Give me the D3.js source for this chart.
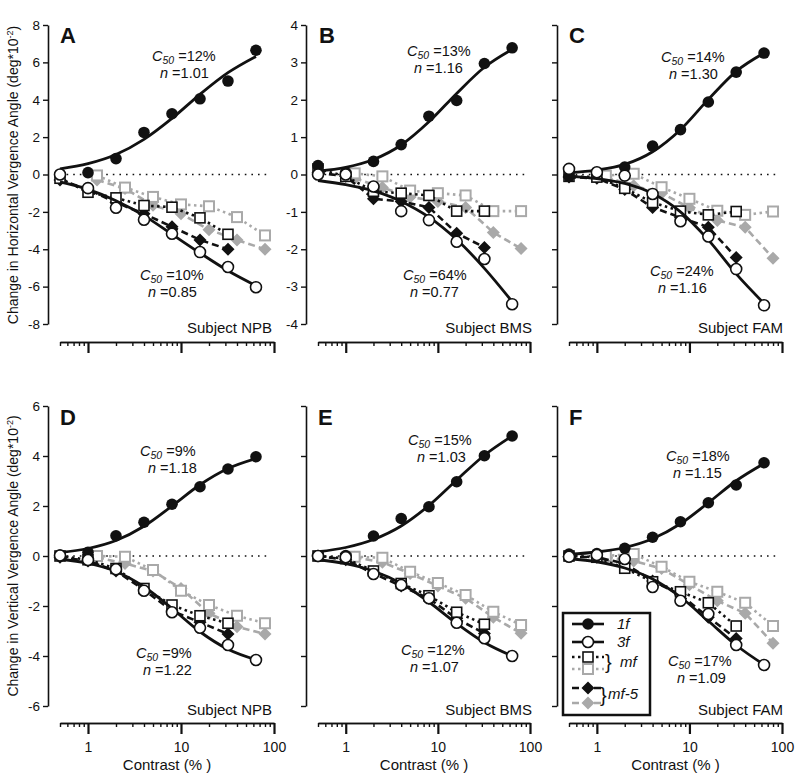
<!DOCTYPE html>
<html><head><meta charset="utf-8">
<script src="https://cdn.jsdelivr.net/npm/d3@7"></script>
<style>body{margin:0;background:#fff}svg{display:block}text{font-family:Arial,"Liberation Sans",sans-serif;fill:#111}</style>
</head><body><svg id="c" width="800" height="780"></svg>
<script>
// ---------------- DATA ----------------
const contrast = [0.5, 1, 2, 4, 8, 16, 32, 64];          // 1f, 3f, fits
const contrastMf = [0.5, 1, 2, 4, 8, 16, 32];            // black mf, mf-5
const contrastShift = [1.25, 2.5, 5, 10, 20, 40, 80];    // grey mf, mf-5
const xMajorTicks = [1, 10, 100];
const xMinorTicks = [0.5,0.6,0.7,0.8,0.9,2,3,4,5,6,7,8,9,20,30,40,50,60,70,80,90];
const xTickLabels = ["1", "10", "100"];

const letters = ["A","B","C","D","E","F"];
const subjects = ["Subject NPB","Subject BMS","Subject FAM","Subject NPB","Subject BMS","Subject FAM"];
const yDomains = [[-8,8],[-4,4],[-4,4],[-6,6],[-6,6],[-6,6]];
const yTicksA = [-8,-6,-4,-2,0,2,4,6,8];
const yTicksB = [-4,-3,-2,-1,0,1,2,3,4];
const yTicksD = [-6,-4,-2,0,2,4,6];
const yTickSets = [yTicksA, yTicksB, yTicksB, yTicksD, yTicksD, yTicksD];
const yTickLabelShown = [true, true, false, true, false, false];

const c50Top = ["12%","13%","14%","9%","15%","18%"];
const nTop   = ["1.01","1.16","1.30","1.18","1.03","1.15"];
const c50Bot = ["10%","64%","24%","9%","12%","17%"];
const nBot   = ["0.85","0.77","1.16","1.22","1.07","1.09"];

// 1f (filled circles)
const f1A = [0.0, 0.1, 0.85, 2.25, 3.25, 4.05, 5.0, 6.65];
const f1B = [0.24, 0.05, 0.35, 0.8, 1.56, 1.98, 2.97, 3.39];
const f1C = [-0.05, 0.05, 0.2, 0.76, 1.2, 1.94, 2.74, 3.25];
const f1D = [0.04, 0.15, 0.81, 1.35, 2.07, 2.77, 3.48, 3.97];
const f1E = [0.0, 0.02, 0.8, 1.5, 1.97, 2.97, 4.01, 4.8];
const f1F = [0.08, 0.1, 0.31, 0.75, 1.37, 2.13, 2.84, 3.73];
// 3f (open circles)
const f3A = [0.0, -0.73, -1.78, -2.42, -3.17, -4.15, -4.95, -6.03];
const f3B = [0.0, 0.0, -0.32, -0.98, -1.22, -1.8, -2.26, -3.47];
const f3C = [0.15, 0.06, -0.03, -0.52, -1.25, -1.66, -2.53, -3.5];
const f3D = [0.02, -0.16, -0.53, -1.39, -2.25, -2.87, -3.56, -4.16];
const f3E = [0.0, -0.05, -0.72, -1.16, -1.69, -2.67, -3.29, -4.0];
const f3F = [-0.03, 0.04, -0.12, -1.24, -1.79, -2.32, -3.56, -4.36];
// fitted curves read at the contrasts
const fit1A = [0.3, 0.58, 1.07, 1.88, 3.0, 4.29, 5.45, 6.32];
const fit1B = [0.09, 0.19, 0.40, 0.79, 1.41, 2.17, 2.87, 3.35];
const fit1C = [0.05, 0.12, 0.27, 0.61, 1.2, 2.01, 2.76, 3.25];
const fit1D = [0.14, 0.30, 0.62, 1.19, 2.0, 2.85, 3.5, 3.9];
const fit1E = [0.17, 0.34, 0.66, 1.2, 2.02, 3.04, 4.03, 4.8];
const fit1F = [0.07, 0.16, 0.34, 0.69, 1.29, 2.13, 3.01, 3.7];
const fit3A = [-0.4, -0.8, -1.4, -2.2, -3.2, -4.2, -5.15, -5.95];
const fit3B = [-0.16, -0.27, -0.44, -0.72, -1.14, -1.74, -2.51, -3.4];
const fit3C = [-0.05, -0.11, -0.24, -0.51, -1.0, -1.75, -2.66, -3.45];
const fit3D = [-0.13, -0.29, -0.62, -1.23, -2.1, -3.03, -3.73, -4.15];
const fit3E = [-0.15, -0.31, -0.6, -1.1, -1.84, -2.7, -3.46, -4.0];
const fit3F = [-0.11, -0.23, -0.48, -0.92, -1.64, -2.6, -3.57, -4.35];
// mf black (open squares, dotted)
const mfA = [-0.2, -0.95, -1.25, -1.66, -1.75, -2.32, -3.2];
const mfB = [0.15, -0.05, -0.45, -0.5, -0.56, -0.98, -0.98];
const mfC = [-0.05, -0.07, -0.37, -0.75, -0.98, -1.08, -0.99];
const mfD = [0.0, -0.15, -0.5, -1.3, -1.96, -2.39, -2.69];
const mfE = [0.0, -0.1, -0.6, -1.1, -1.59, -2.25, -2.73];
const mfF = [0.0, -0.05, -0.49, -1.03, -1.43, -1.87, -2.8];
// mf-5 black (diamonds, dashed)
const mf5A = [-0.3, -0.8, -1.5, -2.1, -2.8, -3.5, -4.0];
const mf5B = [0.05, -0.05, -0.65, -0.72, -0.88, -1.57, -1.95];
const mf5C = [-0.07, -0.1, -0.4, -0.88, -1.15, -1.41, -2.22];
const mf5D = [-0.05, -0.2, -0.6, -1.35, -2.2, -2.65, -3.12];
const mf5E = [0.0, -0.15, -0.7, -1.2, -1.7, -2.5, -3.1];
const mf5F = [-0.03, -0.05, -0.3, -1.0, -1.55, -2.45, -3.3];
// mf grey (open squares, dotted)
const mfGA = [-0.05, -0.7, -1.2, -1.6, -1.7, -2.28, -3.26];
const mfGB = [0.03, -0.05, -0.43, -0.5, -0.56, -0.98, -0.98];
const mfGC = [-0.03, 0.02, -0.34, -0.65, -0.97, -1.08, -0.99];
const mfGD = [0.0, -0.03, -0.56, -1.39, -1.96, -2.39, -2.69];
const mfGE = [-0.03, -0.07, -0.63, -1.08, -1.56, -2.23, -2.76];
const mfGF = [0.0, 0.08, -0.43, -1.03, -1.43, -1.87, -2.8];
// mf-5 grey (diamonds, dashed)
const mf5GA = [-0.3, -0.75, -1.65, -2.1, -2.95, -3.5, -4.0];
const mf5GB = [-0.1, -0.35, -0.6, -0.72, -0.88, -1.55, -1.98];
const mf5GC = [-0.07, -0.3, -0.5, -0.89, -1.23, -1.41, -2.24];
const mf5GD = [-0.05, -0.3, -0.6, -1.3, -2.29, -2.83, -3.12];
const mf5GE = [-0.05, -0.25, -0.7, -1.2, -1.69, -2.45, -3.09];
const mf5GF = [-0.05, -0.2, -0.5, -1.15, -1.79, -2.29, -3.49];

const f1 = [f1A,f1B,f1C,f1D,f1E,f1F];
const f3 = [f3A,f3B,f3C,f3D,f3E,f3F];
const fit1 = [fit1A,fit1B,fit1C,fit1D,fit1E,fit1F];
const fit3 = [fit3A,fit3B,fit3C,fit3D,fit3E,fit3F];
const mf = [mfA,mfB,mfC,mfD,mfE,mfF];
const mf5 = [mf5A,mf5B,mf5C,mf5D,mf5E,mf5F];
const mfG = [mfGA,mfGB,mfGC,mfGD,mfGE,mfGF];
const mf5G = [mf5GA,mf5GB,mf5GC,mf5GD,mf5GE,mf5GF];

// ---------------- LAYOUT ----------------
const colX = [[60,274],[318,530],[569,782]];
const rowY = [[25,324],[406,706]];
const xAxisY = [342, 723];
const letterPos = [[60,43],[319,43],[569,43],[60,425],[318,425],[569,425]];
const annTop = [[152,61,160,78],[407,56,414,73],[661,62,669,79],[140,456,148,473],[408,445,417,462],[666,461,673,478]];
const annBot = [[140,280,148,297],[403,280,410,297],[650,276,658,293],[136,658,143,675],[401,655,410,672],[668,666,677,683]];
const subjPos = [[272,333],[532,333],[783,333],[272,715],[532,715],[783,715]];

const BLACK = "#111", GREY = "#a9a9a9";
const DOT = "2.5,3.5", DASH = "7,4";
const svg = d3.select("#c");
const diamond = "M0,-6.5L6.5,0L0,6.5L-6.5,0Z";

function annotate(g, pos, c50, n) {
  const t1 = g.append("text").attr("x", pos[0]).attr("y", pos[1]).attr("font-size", 14.5);
  t1.append("tspan").attr("font-style","italic").text("C");
  t1.append("tspan").attr("font-style","italic").attr("font-size",10.5).attr("dy",3).text("50");
  t1.append("tspan").attr("dy",-3).text(" =" + c50);
  const t2 = g.append("text").attr("x", pos[2]).attr("y", pos[3]).attr("font-size", 14.5);
  t2.append("tspan").attr("font-style","italic").text("n");
  t2.append("tspan").text(" =" + n);
}

for (let i = 0; i < 6; i++) {
  const col = i % 3, row = Math.floor(i / 3);
  const x = d3.scaleLog().domain([0.5, 100]).range(colX[col]);
  const y = d3.scaleLinear().domain(yDomains[i]).range([rowY[row][1], rowY[row][0]]);
  const g = svg.append("g");

  // y axis
  const yAx = d3.axisLeft(y).tickValues(yTickSets[i]).tickSize(5).tickSizeOuter(0)
    .tickPadding(3).tickFormat(d => yTickLabelShown[i] ? String(d) : "");
  const ya = g.append("g").attr("transform", `translate(${colX[col][0]-12},0)`).call(yAx);
  ya.select(".domain").attr("stroke", BLACK).attr("stroke-width", 1.6);
  ya.selectAll(".tick line").attr("stroke", BLACK).attr("stroke-width", 1.4);
  ya.selectAll(".tick text").attr("font-size", 13.5).attr("fill", BLACK)
    .attr("font-family", "Arial, 'Liberation Sans', sans-serif");

  // x axis
  const xg = g.append("g").attr("transform", `translate(0,${xAxisY[row]})`);
  const xMin = d3.axisBottom(x).tickValues(xMinorTicks).tickSize(4).tickSizeOuter(0).tickFormat("");
  const xMaj = d3.axisBottom(x).tickValues(xMajorTicks).tickSize(11).tickSizeOuter(0).tickPadding(8)
    .tickFormat((d, k) => row === 1 ? xTickLabels[k] : "");
  const xa1 = xg.append("g").call(xMin);
  const xa2 = xg.append("g").call(xMaj);
  [xa1, xa2].forEach(a => {
    a.select(".domain").attr("stroke", BLACK).attr("stroke-width", 1.6);
    a.selectAll(".tick line").attr("stroke", BLACK).attr("stroke-width", 1.4);
  });
  xa2.selectAll(".tick line").attr("stroke-width", 2.2);
  xa2.selectAll(".tick text").attr("font-size", 14).attr("fill", BLACK)
    .attr("font-family", "Arial, 'Liberation Sans', sans-serif");
  if (row === 1) {
    g.append("text").attr("x", (colX[col][0] + colX[col][1]) / 2).attr("y", 770)
      .attr("text-anchor", "middle").attr("font-size", 15).text("Contrast (% )");
  }

  // zero dotted line
  g.append("line").attr("x1", x(0.5)).attr("x2", x(100) - 3).attr("y1", y(0)).attr("y2", y(0))
    .attr("stroke", BLACK).attr("stroke-width", 1.6).attr("stroke-dasharray", "1.6,5");

  const lg = d3.line().x(d => x(d[0])).y(d => y(d[1]));
  const pts = (xs, ys) => xs.map((c, k) => [c, ys[k]]);

  // grey series
  g.append("path").attr("d", lg(pts(contrastShift, mf5G[i]))).attr("fill","none")
    .attr("stroke", GREY).attr("stroke-width", 2.6).attr("stroke-dasharray", DASH);
  g.append("path").attr("d", lg(pts(contrastShift, mfG[i]))).attr("fill","none")
    .attr("stroke", GREY).attr("stroke-width", 2.6).attr("stroke-dasharray", DOT);
  g.selectAll(null).data(pts(contrastShift, mf5G[i])).enter().append("path")
    .attr("d", diamond).attr("transform", d => `translate(${x(d[0])},${y(d[1])})`).attr("fill", GREY);
  g.selectAll(null).data(pts(contrastShift, mfG[i])).enter().append("rect")
    .attr("x", d => x(d[0]) - 5).attr("y", d => y(d[1]) - 5).attr("width", 10).attr("height", 10)
    .attr("fill", "#fff").attr("stroke", GREY).attr("stroke-width", 2);

  // black mf series
  g.append("path").attr("d", lg(pts(contrastMf, mf5[i]))).attr("fill","none")
    .attr("stroke", BLACK).attr("stroke-width", 2.6).attr("stroke-dasharray", DASH);
  g.append("path").attr("d", lg(pts(contrastMf, mf[i]))).attr("fill","none")
    .attr("stroke", BLACK).attr("stroke-width", 2.6).attr("stroke-dasharray", DOT);
  g.selectAll(null).data(pts(contrastMf, mf5[i])).enter().append("path")
    .attr("d", diamond).attr("transform", d => `translate(${x(d[0])},${y(d[1])})`).attr("fill", BLACK);
  g.selectAll(null).data(pts(contrastMf, mf[i])).enter().append("rect")
    .attr("x", d => x(d[0]) - 5).attr("y", d => y(d[1]) - 5).attr("width", 10).attr("height", 10)
    .attr("fill", "#fff").attr("stroke", BLACK).attr("stroke-width", 1.6);

  // fits
  const lf = d3.line().curve(d3.curveMonotoneX).x(d => x(d[0])).y(d => y(d[1]));
  g.append("path").attr("d", lf(pts(contrast, fit1[i]))).attr("fill","none").attr("stroke", BLACK).attr("stroke-width", 2.8);
  g.append("path").attr("d", lf(pts(contrast, fit3[i]))).attr("fill","none").attr("stroke", BLACK).attr("stroke-width", 2.8);

  // 1f and 3f markers
  g.selectAll(null).data(pts(contrast, f1[i])).enter().append("circle")
    .attr("cx", d => x(d[0])).attr("cy", d => y(d[1])).attr("r", 5.8).attr("fill", BLACK);
  g.selectAll(null).data(pts(contrast, f3[i])).enter().append("circle")
    .attr("cx", d => x(d[0])).attr("cy", d => y(d[1])).attr("r", 5.5)
    .attr("fill", "#fff").attr("stroke", BLACK).attr("stroke-width", 1.6);

  // texts
  g.append("text").attr("x", letterPos[i][0]).attr("y", letterPos[i][1]).attr("font-size", 22)
    .attr("font-weight", "bold").text(letters[i]);
  annotate(g, annTop[i], c50Top[i], nTop[i]);
  annotate(g, annBot[i], c50Bot[i], nBot[i]);
  g.append("text").attr("x", subjPos[i][0]).attr("y", subjPos[i][1]).attr("text-anchor", "end")
    .attr("font-size", 15).text(subjects[i]);
}

// y titles
function yTitle(cy, word) {
  const t = svg.append("text").attr("transform", `translate(18,${cy}) rotate(-90)`)
    .attr("text-anchor", "middle").attr("font-size", 14);
  t.append("tspan").text(`Change in ${word} Vergence Angle (deg*10`);
  t.append("tspan").attr("font-size", 9).attr("dy", -5).text("-2");
  t.append("tspan").attr("dy", 5).text(")");
}
yTitle(175, "Horizontal");
yTitle(556, "Vertical");

// legend
const leg = svg.append("g");
leg.append("rect").attr("x", 563).attr("y", 613).attr("width", 87).attr("height", 102)
  .attr("fill", "#fff").attr("stroke", BLACK).attr("stroke-width", 2.5);
const legRows = [
  {y: 624, color: BLACK, dash: null, mark: "fill"},
  {y: 642, color: BLACK, dash: null, mark: "open"},
  {y: 657, color: BLACK, dash: DOT, mark: "sq"},
  {y: 669, color: GREY, dash: DOT, mark: "sq"},
  {y: 688, color: BLACK, dash: DASH, mark: "dia"},
  {y: 703, color: GREY, dash: DASH, mark: "dia"}
];
legRows.forEach(r => {
  leg.append("line").attr("x1", 572).attr("x2", 604).attr("y1", r.y).attr("y2", r.y)
    .attr("stroke", r.color).attr("stroke-width", 2.6).attr("stroke-dasharray", r.dash);
  if (r.mark === "fill") leg.append("circle").attr("cx", 588).attr("cy", r.y).attr("r", 5.8).attr("fill", BLACK);
  if (r.mark === "open") leg.append("circle").attr("cx", 588).attr("cy", r.y).attr("r", 5.5).attr("fill", "#fff").attr("stroke", BLACK).attr("stroke-width", 1.6);
  if (r.mark === "sq") leg.append("rect").attr("x", 583).attr("y", r.y - 5).attr("width", 10).attr("height", 10).attr("fill", "#fff").attr("stroke", r.color).attr("stroke-width", r.color === GREY ? 2 : 1.6);
  if (r.mark === "dia") leg.append("path").attr("d", diamond).attr("transform", `translate(588,${r.y})`).attr("fill", r.color);
});
leg.append("text").attr("x", 617).attr("y", 629).attr("font-size", 15).attr("font-style", "italic").text("1f");
leg.append("text").attr("x", 617).attr("y", 647).attr("font-size", 15).attr("font-style", "italic").text("3f");
leg.append("text").attr("x", 605).attr("y", 669).attr("font-size", 20).text("}");
leg.append("text").attr("x", 620).attr("y", 667).attr("font-size", 15).attr("font-style", "italic").text("mf");
leg.append("text").attr("x", 600).attr("y", 702).attr("font-size", 20).text("}");
leg.append("text").attr("x", 608).attr("y", 699).attr("font-size", 15).attr("font-style", "italic").text("mf-5");
</script></body></html>
